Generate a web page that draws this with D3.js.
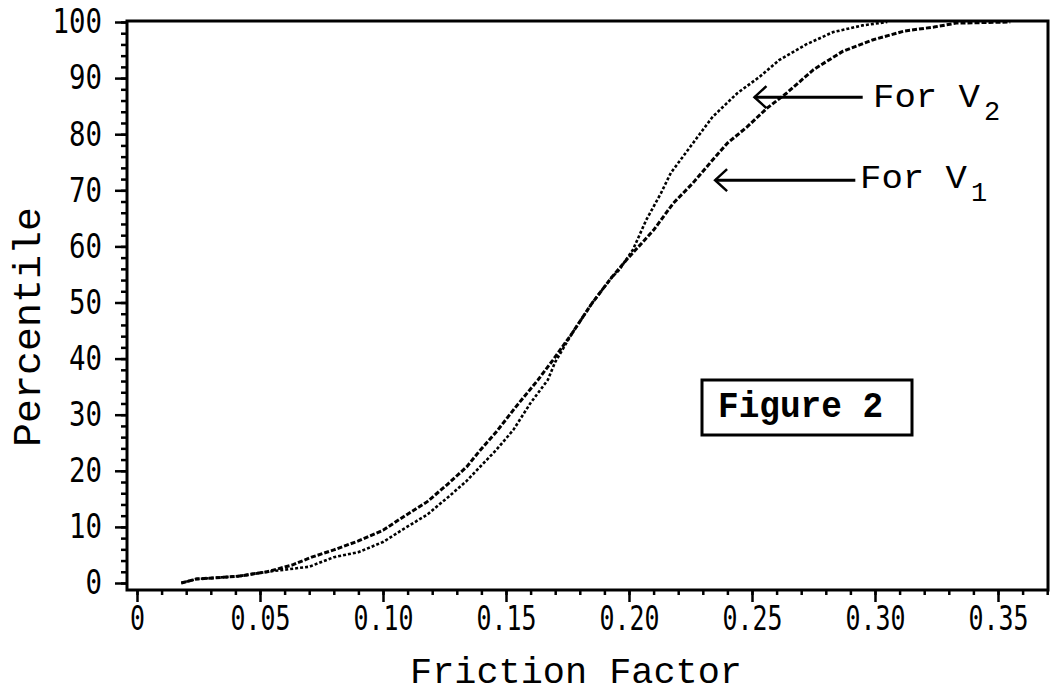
<!DOCTYPE html>
<html>
<head>
    <meta charset="utf-8">
    <title>Figure 2 - Friction Factor Percentiles</title>
    <style>
        body { margin: 0; background: #fff; }
        .tick text { font-family: 'DejaVu Sans Mono', monospace; font-size: 34px; fill: #000; }
        .tick line { stroke: #000; stroke-width: 2.5; }
        .label { font-family: 'Liberation Mono', monospace; fill: #000; }
    </style>
</head>
<body>
<div id="chart"></div>
<script src="https://cdn.jsdelivr.net/npm/d3@7"></script>
<script>
    (function(d3) {
        'use strict';

        // friction factor / percentile
        var v1Friction = [0.018, 0.024, 0.041, 0.053, 0.063, 0.071, 0.080, 0.090, 0.100, 0.109,
            0.118, 0.126, 0.134, 0.139, 0.146, 0.154, 0.163, 0.169, 0.177, 0.185,
            0.193, 0.199, 0.210, 0.218, 0.226, 0.233, 0.240, 0.248, 0.256, 0.264,
            0.275, 0.287, 0.299, 0.312, 0.324, 0.333, 0.355];
        var v1Percentile = [0, 0.7, 1.2, 2.0, 3.2, 4.6, 5.9, 7.5, 9.4, 12,
            14.5, 17.5, 20.7, 23.4, 26.9, 31.4, 36.2, 39.7, 44.6, 49.9,
            54.5, 57.6, 62.9, 67.7, 71.3, 74.9, 78.4, 81.3, 84.6, 87.3,
            91.5, 94.8, 96.8, 98.4, 99.1, 99.8, 100];

        var v2Friction = [0.018, 0.024, 0.041, 0.053, 0.070, 0.080, 0.090, 0.100, 0.109, 0.118,
            0.127, 0.134, 0.139, 0.146, 0.153, 0.160, 0.167, 0.170, 0.177, 0.185,
            0.193, 0.196, 0.2016, 0.207, 0.213, 0.217, 0.226, 0.234, 0.244, 0.253,
            0.261, 0.272, 0.283, 0.295, 0.305];
        var v2Percentile = [0, 0.7, 1.2, 2.0, 2.9, 4.6, 5.5, 7.3, 9.8, 12.2,
            15.5, 18.2, 20.5, 23.7, 27.3, 32.1, 36.2, 39.4, 44.6, 49.9,
            54.5, 55.8, 59.4, 64.7, 69.5, 73.1, 78.4, 83.1, 87.3, 90.2,
            93.2, 96.0, 98.2, 99.4, 100];

        var xTicks = [0, 0.05, 0.10, 0.15, 0.20, 0.25, 0.30, 0.35];
        var xTickLabels = ['0', '0.05', '0.10', '0.15', '0.20', '0.25', '0.30', '0.35'];
        var yTicks = [0, 10, 20, 30, 40, 50, 60, 70, 80, 90, 100];

        var width = 1055;
        var height = 693;
        var frame = { left: 127, top: 21, right: 1048, bottom: 590 };

        var svg = d3.select('#chart')
            .append('svg')
            .attr('width', width)
            .attr('height', height);

        var x = d3.scaleLinear().domain([0, 0.35]).range([137, 998]);
        var y = d3.scaleLinear().domain([0, 100]).range([583, 22]);

        // minor ticks first, majors on top
        svg.append('g')
            .attr('transform', 'translate(0,' + frame.bottom + ')')
            .call(d3.axisBottom(x).tickValues(d3.range(0, 0.3701, 0.01)).tickSize(5).tickFormat(''))
            .call(function(g) { g.select('.domain').remove(); });

        svg.append('g')
            .attr('transform', 'translate(' + frame.left + ',0)')
            .call(d3.axisLeft(y).tickValues(d3.range(0, 100.1, 2)).tickSize(6).tickFormat(''))
            .call(function(g) { g.select('.domain').remove(); });

        var xAxis = svg.append('g')
            .attr('transform', 'translate(0,' + frame.bottom + ')')
            .call(d3.axisBottom(x).tickValues(xTicks).tickSize(12).tickPadding(4)
                .tickFormat(function(d, i) { return xTickLabels[i]; }))
            .call(function(g) { g.select('.domain').remove(); });
        xAxis.selectAll('.tick text')
            .attr('textLength', function(d, i) { return xTickLabels[i].length * 15; })
            .attr('lengthAdjust', 'spacingAndGlyphs');

        var yAxis = svg.append('g')
            .attr('transform', 'translate(' + frame.left + ',0)')
            .call(d3.axisLeft(y).tickValues(yTicks).tickSize(12).tickPadding(13))
            .call(function(g) { g.select('.domain').remove(); });
        yAxis.selectAll('.tick text')
            .attr('textLength', function(d) { return String(d).length * 16.5; })
            .attr('lengthAdjust', 'spacingAndGlyphs');

        // plot frame
        svg.append('rect')
            .attr('x', frame.left)
            .attr('y', frame.top)
            .attr('width', frame.right - frame.left)
            .attr('height', frame.bottom - frame.top)
            .attr('fill', 'none')
            .attr('stroke', '#000')
            .attr('stroke-width', 3);

        var line = d3.line()
            .x(function(d) { return x(d[0]); })
            .y(function(d) { return y(d[1]); });

        svg.append('path')
            .datum(d3.zip(v1Friction, v1Percentile))
            .attr('d', line)
            .attr('fill', 'none')
            .attr('stroke', '#000')
            .attr('stroke-width', 3)
            .attr('stroke-dasharray', '5,2');

        svg.append('path')
            .datum(d3.zip(v2Friction, v2Percentile))
            .attr('d', line)
            .attr('fill', 'none')
            .attr('stroke', '#000')
            .attr('stroke-width', 2.6)
            .attr('stroke-dasharray', '3,2');

        // arrows + labels
        var notes = [
            { tip: 0.251, tail: 0.295, p: 86.6, sub: '2', tx: 873, base: 107 },
            { tip: 0.235, tail: 0.292, p: 71.8, sub: '1', tx: 860, base: 188 }
        ];
        notes.forEach(function(n) {
            var yy = y(n.p);
            svg.append('line')
                .attr('x1', x(n.tip)).attr('x2', x(n.tail))
                .attr('y1', yy).attr('y2', yy)
                .attr('stroke', '#000').attr('stroke-width', 3);
            svg.append('path')
                .attr('d', 'M' + (x(n.tip) + 12) + ',' + (yy - 11) + 'L' + x(n.tip) + ',' + yy +
                    'L' + (x(n.tip) + 12) + ',' + (yy + 11))
                .attr('fill', 'none').attr('stroke', '#000').attr('stroke-width', 2.5);
            var t = svg.append('text')
                .attr('class', 'label')
                .attr('x', n.tx)
                .attr('y', n.base)
                .style('font-size', '34px');
            t.append('tspan').attr('textLength', 107).attr('lengthAdjust', 'spacingAndGlyphs').text('For V');
            t.append('tspan').attr('dx', 4).attr('dy', 13).style('font-size', '27px').text(n.sub);
        });

        // Figure 2 box
        svg.append('rect')
            .attr('x', 702).attr('y', 380)
            .attr('width', 210).attr('height', 55)
            .attr('fill', 'none').attr('stroke', '#000').attr('stroke-width', 3);
        svg.append('text')
            .attr('class', 'label')
            .attr('x', 718).attr('y', 417)
            .attr('textLength', 165)
            .attr('lengthAdjust', 'spacingAndGlyphs')
            .style('font-size', '36px')
            .style('font-weight', 'bold')
            .text('Figure 2');

        // axis titles
        svg.append('text')
            .attr('class', 'label')
            .attr('x', 410).attr('y', 683)
            .attr('textLength', 332)
            .attr('lengthAdjust', 'spacingAndGlyphs')
            .style('font-size', '36px')
            .text('Friction Factor');

        svg.append('text')
            .attr('class', 'label')
            .attr('transform', 'translate(40,447) rotate(-90)')
            .attr('textLength', 240)
            .attr('lengthAdjust', 'spacingAndGlyphs')
            .style('font-size', '38px')
            .text('Percentile');
    })(window.d3);
</script>
</body>
</html>
